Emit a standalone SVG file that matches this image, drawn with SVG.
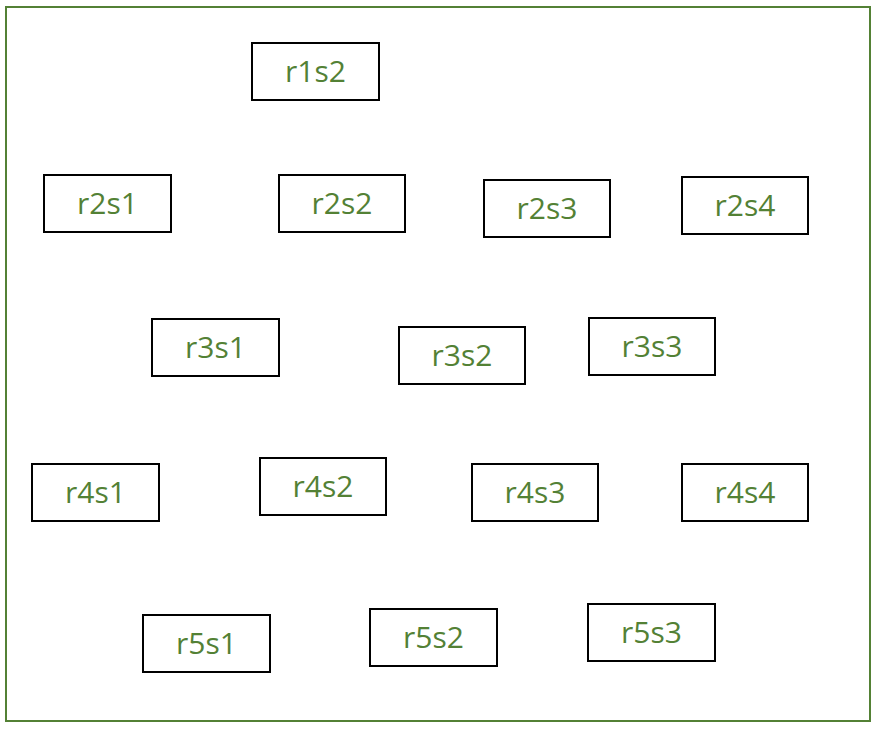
<svg xmlns="http://www.w3.org/2000/svg" width="877" height="731" viewBox="0 0 877 731">
<style>
.frame{fill:#ffffff;stroke:#538135;stroke-width:2}
.box{fill:#ffffff;stroke:#000000;stroke-width:2}
.lbl{font-family:"Open Sans","Liberation Sans",sans-serif;font-size:30px;fill:#538135;text-anchor:middle}
</style>
<rect x="0" y="0" width="877" height="731" fill="#ffffff"/>
<rect class="frame" x="6" y="7" width="864" height="714"/>
<g id="connectors"></g>
<g id="r1s2"><rect class="box" x="252" y="43" width="127" height="57"/><text class="lbl" x="315.5" y="82">r1s2</text></g>
<g id="r2s1"><rect class="box" x="44" y="175" width="127" height="57"/><text class="lbl" x="107.5" y="214">r2s1</text></g>
<g id="r2s2"><rect class="box" x="279" y="175" width="126" height="57"/><text class="lbl" x="342" y="214">r2s2</text></g>
<g id="r2s3"><rect class="box" x="484" y="180" width="126" height="57"/><text class="lbl" x="547" y="219">r2s3</text></g>
<g id="r2s4"><rect class="box" x="682" y="177" width="126" height="57"/><text class="lbl" x="745" y="216">r2s4</text></g>
<g id="r3s1"><rect class="box" x="152" y="319" width="127" height="57"/><text class="lbl" x="215.5" y="358">r3s1</text></g>
<g id="r3s2"><rect class="box" x="399" y="327" width="126" height="57"/><text class="lbl" x="462" y="366">r3s2</text></g>
<g id="r3s3"><rect class="box" x="589" y="318" width="126" height="57"/><text class="lbl" x="652" y="357">r3s3</text></g>
<g id="r4s1"><rect class="box" x="32" y="464" width="127" height="57"/><text class="lbl" x="95.5" y="503">r4s1</text></g>
<g id="r4s2"><rect class="box" x="260" y="458" width="126" height="57"/><text class="lbl" x="323" y="497">r4s2</text></g>
<g id="r4s3"><rect class="box" x="472" y="464" width="126" height="57"/><text class="lbl" x="535" y="503">r4s3</text></g>
<g id="r4s4"><rect class="box" x="682" y="464" width="126" height="57"/><text class="lbl" x="745" y="503">r4s4</text></g>
<g id="r5s1"><rect class="box" x="143" y="615" width="127" height="57"/><text class="lbl" x="206.5" y="654">r5s1</text></g>
<g id="r5s2"><rect class="box" x="370" y="609" width="127" height="57"/><text class="lbl" x="433.5" y="648">r5s2</text></g>
<g id="r5s3"><rect class="box" x="588" y="604" width="127" height="57"/><text class="lbl" x="651.5" y="643">r5s3</text></g>
</svg>
